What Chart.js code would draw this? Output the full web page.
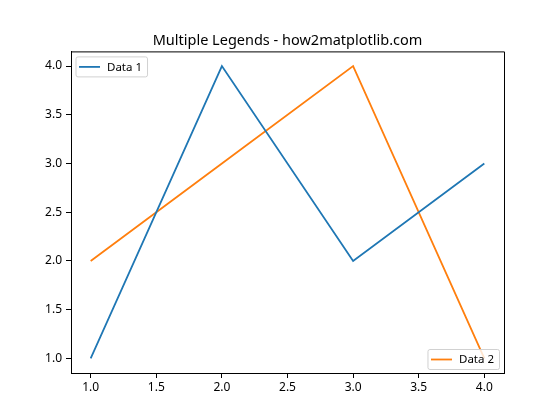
<!DOCTYPE html>
<html>
<head>
<meta charset="utf-8">
<script src="https://cdn.jsdelivr.net/npm/chart.js@4/dist/chart.umd.min.js"></script>
<style>
  html, body { margin: 0; padding: 0; background: #fff; }
  #wrap { width: 560px; height: 420px; }
</style>
</head>
<body>
<div id="wrap"><canvas id="myChart" width="560" height="420"></canvas></div>
<script>
// data
const xValues = [1, 2, 3, 4];
const data1 = [1, 4, 2, 3];
const data2 = [2, 3, 4, 1];
const xTicks = [1.0, 1.5, 2.0, 2.5, 3.0, 3.5, 4.0];
const yTicks = [1.0, 1.5, 2.0, 2.5, 3.0, 3.5, 4.0];

const FONT = "'Noto Sans', 'DejaVu Sans', sans-serif";

// two separate legend boxes, like matplotlib's ax.legend + add_artist
const legendBoxes = {
  id: "legendBoxes",
  afterDraw(chart) {
    const c = chart.ctx;
    const a = chart.chartArea;
    const places = [
      { ds: 0, x: a.left + 4.5, y: a.top + 5, corner: "tl" },
      { ds: 1, x: a.right - 5, y: a.bottom - 4, corner: "br" },
    ];
    c.save();
    c.font = "11.5px " + FONT;
    places.forEach((p) => {
      const ds = chart.data.datasets[p.ds];
      const tw = c.measureText(ds.label).width;
      const w = 3.5 + 21 + 7 + tw + 5;
      const h = 20;
      const bx = p.corner === "tl" ? p.x : p.x - w;
      const by = p.corner === "tl" ? p.y : p.y - h;
      c.fillStyle = "rgba(255,255,255,0.8)";
      c.strokeStyle = "rgba(204,204,204,0.9)";
      c.lineWidth = 1;
      c.beginPath();
      c.roundRect(bx + 0.5, by + 0.5, w, h, 2);
      c.fill();
      c.stroke();
      c.strokeStyle = ds.borderColor;
      c.lineWidth = 1.8;
      c.beginPath();
      c.moveTo(bx + 3.5, by + h / 2 + 0.5);
      c.lineTo(bx + 24.5, by + h / 2 + 0.5);
      c.stroke();
      c.fillStyle = "#000";
      c.textBaseline = "middle";
      c.textAlign = "left";
      c.fillText(ds.label, bx + 31.5, by + h / 2 + 1);
    });
    c.restore();
  },
};

const ctx = document.getElementById("myChart").getContext("2d");

const config = {
  type: "line",
  data: {
    datasets: [
      {
        label: "Data 1",
        data: xValues.map((x, i) => ({ x: x, y: data1[i] })),
        borderColor: "#1f77b4",
        backgroundColor: "#1f77b4",
        borderWidth: 1.8,
        pointRadius: 0,
        tension: 0,
      },
      {
        label: "Data 2",
        data: xValues.map((x, i) => ({ x: x, y: data2[i] })),
        borderColor: "#ff7f0e",
        backgroundColor: "#ff7f0e",
        borderWidth: 1.8,
        pointRadius: 0,
        tension: 0,
      },
    ],
  },
  options: {
    responsive: false,
    animation: false,
    layout: { padding: { left: 0, right: 56, top: 0, bottom: 0 } },
    plugins: {
      legend: { display: false },
      tooltip: { enabled: false },
      title: {
        display: true,
        fullSize: false,
        text: "Multiple Legends - how2matplotlib.com",
        color: "#000",
        font: { family: FONT, size: 14.5, weight: "normal" },
        padding: { top: 32, bottom: 2 },
      },
    },
    scales: {
      x: {
        type: "linear",
        min: 0.85,
        max: 4.15,
        afterBuildTicks: (scale) => {
          scale.ticks = xTicks.map((v) => ({ value: v }));
        },
        afterFit: (scale) => {
          scale.height = 47;
        },
        grid: {
          drawOnChartArea: false,
          drawTicks: true,
          tickLength: 5,
          color: "#000",
        },
        border: { display: true, color: "#000", width: 1 },
        ticks: {
          color: "#000",
          font: { family: FONT, size: 12 },
          padding: 2,
          maxRotation: 0,
          callback: (v) => Number(v).toFixed(1),
        },
      },
      y: {
        type: "linear",
        min: 0.85,
        max: 4.15,
        afterBuildTicks: (scale) => {
          scale.ticks = yTicks.map((v) => ({ value: v }));
        },
        afterFit: (scale) => {
          scale.width = 71;
        },
        grid: {
          drawOnChartArea: false,
          drawTicks: true,
          tickLength: 5,
          color: "#000",
        },
        border: { display: true, color: "#000", width: 1 },
        ticks: {
          color: "#000",
          font: { family: FONT, size: 12 },
          padding: 4,
          callback: (v) => Number(v).toFixed(1),
        },
      },
    },
  },
  plugins: [
    legendBoxes,
    {
      id: "rightTopBorder",
      afterDraw(chart) {
        const c = chart.ctx;
        const a = chart.chartArea;
        c.save();
        c.strokeStyle = "#000";
        c.lineWidth = 1;
        c.beginPath();
        c.moveTo(a.left, a.top + 0.5);
        c.lineTo(a.right + 0.5, a.top + 0.5);
        c.lineTo(a.right + 0.5, a.bottom);
        c.stroke();
        c.restore();
      },
    },
  ],
};

const myChart = new Chart(ctx, config);
</script>
</body>
</html>
